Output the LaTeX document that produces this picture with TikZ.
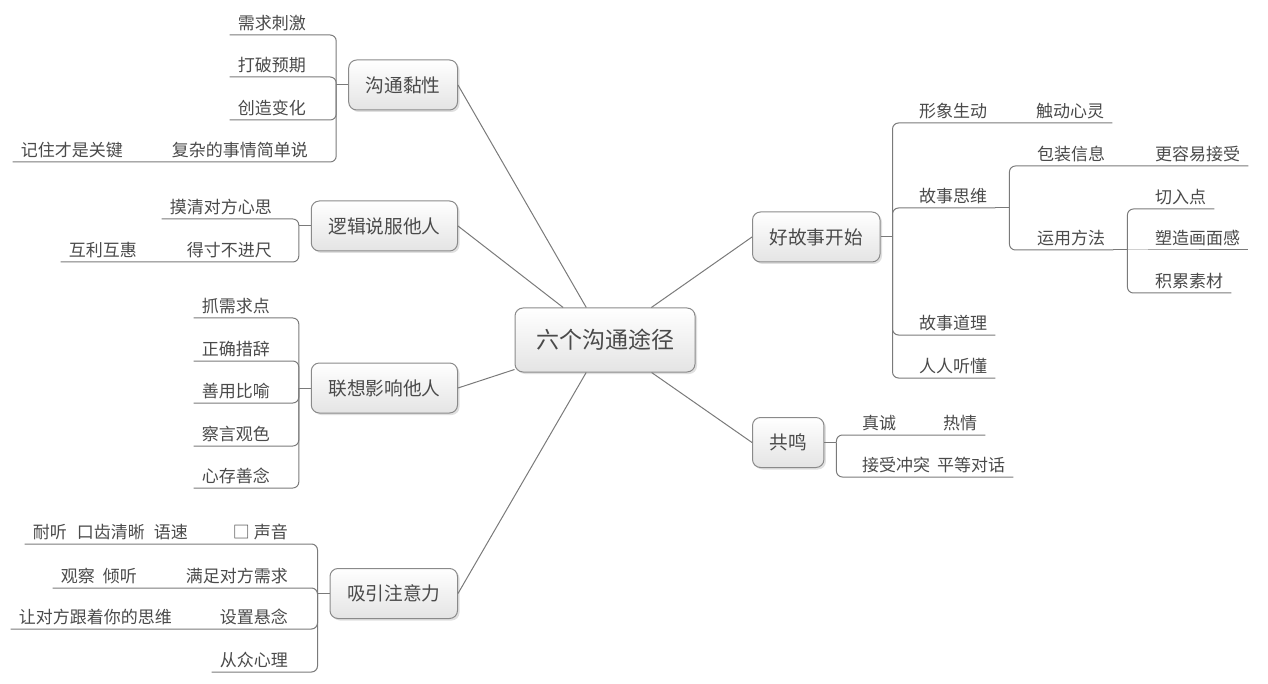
\documentclass[tikz,border=0pt]{standalone}
\usepackage{fontspec}
\setmainfont{Noto Sans CJK SC}
\usepackage{tikz}
\usetikzlibrary{shadows}
\definecolor{txtgray}{HTML}{4A4A4A}
\definecolor{linegray}{HTML}{7A7A7A}
\definecolor{boxgray}{HTML}{8A8A8A}
\definecolor{boxfoot}{HTML}{E4E4E4}

\begin{document}
\begin{tikzpicture}[x=1pt,y=-1pt,
  topic/.style={draw=boxgray, line width=1pt, rounded corners=8pt, top color=white, bottom color=boxfoot,
    inner xsep=17pt, minimum height=50pt, text=txtgray, font=\fontsize{18.7}{22}\selectfont,
    drop shadow={shadow xshift=2pt, shadow yshift=-2pt, fill=black, opacity=0.12}},
  leafl/.style={anchor=south east, inner xsep=8pt, inner ysep=2pt, text height=13pt, text depth=3.5pt,
    text=txtgray, font=\fontsize{17}{20}\selectfont},
  leafr/.style={leafl, anchor=south west},
  conn/.style={draw=linegray, line width=1pt},
  fork/.style={conn, rounded corners=6pt}]
 \useasboundingbox (0,0) rectangle (1268,684);
 \node[topic, inner xsep=21pt, minimum height=64pt, font=\fontsize{23}{27}\selectfont] (root) at (605,340) {六个沟通途径};
%
 \node[topic, anchor=east] (b1) at (458,85) {沟通黏性};
 \node[leafl] (a1) at (314,35) {需求刺激};
 \node[leafl] (a2) at (314,77) {打破预期};
 \node[leafl] (a3) at (314,120) {创造变化};
 \node[leafl] (a4) at (316,162) {复杂的事情简单说};
 \node[leafl] (a41) at (131,162) {记住才是关键};
 \draw[conn] (b1.east) -- (root);
 \draw[conn] (b1.west) -- ++(-12,0) coordinate (j1);
 \draw[fork] (j1) |- (a1.south east) -- (a1.south west);
 \draw[fork] (j1) |- (a2.south east) -- (a2.south west);
 \draw[fork] (j1) |- (a3.south east) -- (a3.south west);
 \draw[fork] (j1) |- (a4.south east) -- (a4.south west) -- (a41.south east) -- (a41.south west);
%
 \node[topic, anchor=east] (b2) at (458,226) {逻辑说服他人};
 \node[leafl] (c1) at (280,219) {摸清对方心思};
 \node[leafl] (c2) at (280,262) {得寸不进尺};
 \node[leafl] (c21) at (145,262) {互利互惠};
 \draw[conn] (b2.east) -- (root);
 \draw[conn] (b2.west) -- ++(-12,0) coordinate (j2);
 \draw[fork] (j2) |- (c1.south east) -- (c1.south west);
 \draw[fork] (j2) |- (c2.south east) -- (c2.south west) -- (c21.south east) -- (c21.south west);
%
 \node[topic, anchor=east] (b3) at (458,388) {联想影响他人};
 \node[leafl] (d1) at (278,318) {抓需求点};
 \node[leafl] (d2) at (278,361) {正确措辞};
 \node[leafl] (d3) at (278,403) {善用比喻};
 \node[leafl] (d4) at (278,446) {察言观色};
 \node[leafl] (d5) at (278,488) {心存善念};
 \draw[conn] (b3.east) -- (root);
 \draw[conn] (b3.west) -- ++(-12,0) coordinate (j3);
 \foreach \n in {d1,d2,d3,d4,d5}
   \draw[fork] (j3) |- (\n.south east) -- (\n.south west);
%
 \node[topic, anchor=east] (b4) at (458,593.5) {吸引注意力};
 \node[leafl] (e1) at (296,544) {□ 声音};
 \node[leafl] (e11) at (196,544) {耐听\hspace{10pt}口齿清晰\hspace{9pt}语速};
 \node[leafl] (e2) at (296,588) {满足对方需求};
 \node[leafl] (e21) at (145,588) {观察\hspace{8pt}倾听};
 \node[leafl] (e3) at (296,629) {设置悬念};
 \node[leafl] (e31) at (180,629) {让对方跟着你的思维};
 \node[leafl] (e4) at (296,672) {从众心理};
 \draw[conn] (b4.east) -- (root);
 \draw[conn] (b4.west) -- ++(-12,0) coordinate (j4);
 \draw[fork] (j4) |- (e1.south east) -- (e1.south west) -- (e11.south east) -- (e11.south west);
 \draw[fork] (j4) |- (e2.south east) -- (e2.south west) -- (e21.south east) -- (e21.south west);
 \draw[fork] (j4) |- (e3.south east) -- (e3.south west) -- (e31.south east) -- (e31.south west);
 \draw[fork] (j4) |- (e4.south east) -- (e4.south west);
%
 \node[topic, anchor=west] (b5) at (752,237) {好故事开始};
 \node[leafr] (f1) at (911,123) {形象生动};
 \node[leafr] (f11) at (1028,123) {触动心灵};
 \node[leafr] (f2) at (911,208) {故事思维};
 \node[leafr] (g1) at (1029,166) {包装信息};
 \node[leafr] (g11) at (1147,166) {更容易接受};
 \node[leafr] (g2) at (1029,250) {运用方法};
 \node[leafr] (h1) at (1147,209) {切入点};
 \node[leafr] (h2) at (1147,250) {塑造画面感};
 \node[leafr] (h3) at (1147,293) {积累素材};
 \node[leafr] (f3) at (911,335) {故事道理};
 \node[leafr] (f4) at (911,378) {人人听懂};
 \draw[conn] (b5.west) -- (root);
 \draw[conn] (b5.east) -- ++(12,0) coordinate (j5);
 \draw[fork] (j5) |- (f1.south west) -- (f1.south east) -- (f11.south west) -- (f11.south east);
 \draw[fork] (j5) |- (f2.south west) -- (f2.south east);
 \draw[fork] (j5) |- (f3.south west) -- (f3.south east);
 \draw[fork] (j5) |- (f4.south west) -- (f4.south east);
 \draw[conn] (f2.south east) -- ++(14,0) coordinate (j52);
 \draw[fork] (j52) |- (g1.south west) -- (g1.south east) -- (g11.south west) -- (g11.south east);
 \draw[fork] (j52) |- (g2.south west) -- (g2.south east);
 \draw[conn] (g2.south east) -- ++(14,0) coordinate (j53);
 \draw[fork] (j53) |- (h1.south west) -- (h1.south east);
 \draw[conn] (j53) -- (h2.south west) -- (h2.south east);
 \draw[fork] (j53) |- (h3.south west) -- (h3.south east);
%
 \node[topic, anchor=west] (b6) at (752,442.5) {共鸣};
 \node[leafr] (k1) at (854,435) {真诚};
 \node[leafr] (k11) at (935,435) {热情};
 \node[leafr] (k2) at (854,477) {接受冲突};
 \node[leafr] (k21) at (929,477) {平等对话};
 \draw[conn] (b6.west) -- (root);
 \draw[conn] (b6.east) -- ++(12,0) coordinate (j6);
 \draw[fork] (j6) |- (k1.south west) -- (k1.south east) -- (k11.south west) -- (k11.south east);
 \draw[fork] (j6) |- (k2.south west) -- (k2.south east) -- (k21.south west) -- (k21.south east);
\end{tikzpicture}
\end{document}
